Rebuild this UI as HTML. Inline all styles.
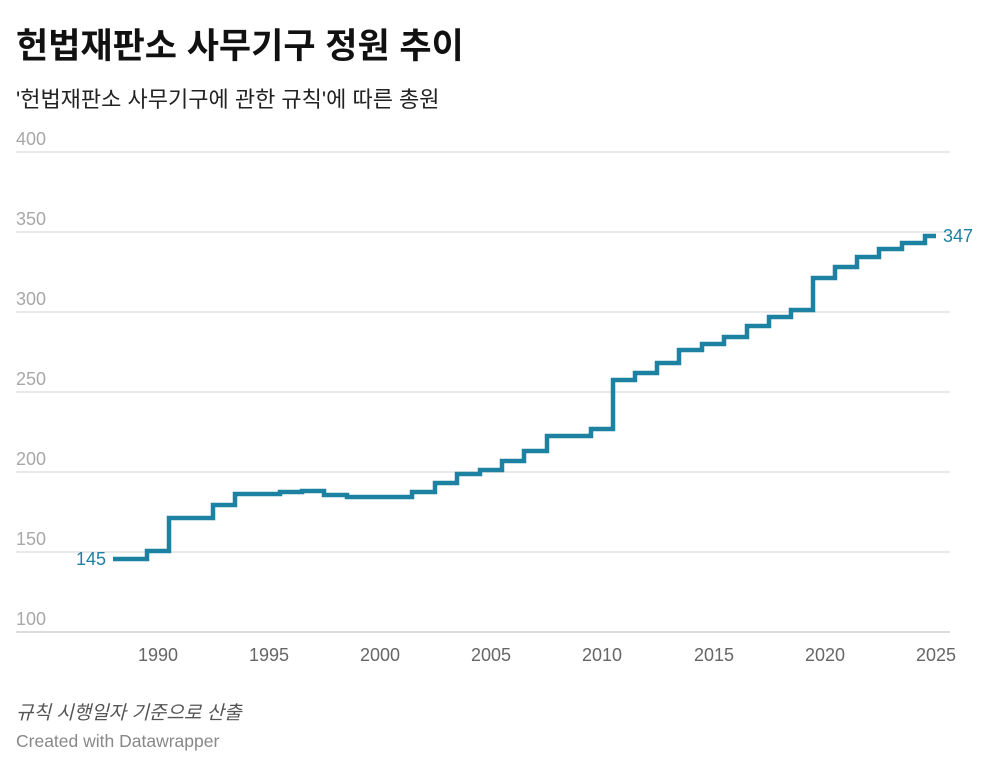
<!DOCTYPE html>
<html><head><meta charset="utf-8"><style>
body{margin:0;background:#fff;width:992px;height:768px;overflow:hidden;font-family:"Liberation Sans","Noto Sans CJK KR",sans-serif;}
</style></head><body>
<svg width="992" height="768" xmlns="http://www.w3.org/2000/svg" style="position:absolute;left:0;top:0">
<text x="16" y="58" font-size="35" font-weight="bold" fill="#111" font-family="Liberation Sans, Noto Sans CJK KR, sans-serif">헌법재판소 사무기구 정원 추이</text>
<text x="16" y="107" font-size="22" fill="#222" font-family="Liberation Sans, Noto Sans CJK KR, sans-serif">'헌법재판소 사무기구에 관한 규칙'에 따른 총원</text>
<g stroke="#e2e2e2" stroke-width="1.5">
<line x1="16" x2="950" y1="152" y2="152"/><line x1="16" x2="950" y1="232" y2="232"/><line x1="16" x2="950" y1="312" y2="312"/><line x1="16" x2="950" y1="392" y2="392"/><line x1="16" x2="950" y1="472" y2="472"/><line x1="16" x2="950" y1="552" y2="552"/><line x1="16" x2="950" y1="632" y2="632" stroke="#d0d0d0"/>
</g>
<g font-size="18" fill="#a8a8a8" font-family="Liberation Sans, sans-serif">
<text x="16" y="145">400</text><text x="16" y="225">350</text><text x="16" y="305">300</text><text x="16" y="385">250</text><text x="16" y="465">200</text><text x="16" y="545">150</text><text x="16" y="625">100</text>
</g>
<g font-size="18" fill="#666" text-anchor="middle" font-family="Liberation Sans, sans-serif">
<text x="158" y="661">1990</text><text x="269" y="661">1995</text><text x="380" y="661">2000</text><text x="491" y="661">2005</text><text x="602" y="661">2010</text><text x="714" y="661">2015</text><text x="825" y="661">2020</text><text x="936" y="661">2025</text>
</g>
<path fill="none" stroke="#1d81a2" stroke-width="4.5" stroke-linejoin="miter" d="M113 559H147V551H169V518H213V505H235V494H280V492H302V491H324V495H347V497H412V492H435V483H457V474H480V470H502V461H524V451H547V436H591V429H613V380H635V373H657V363H679V350H702V344H724V337H747V326H769V317H791V310H813V278H835V267H857V257H879V249H902V243H925V236H936"/>
<text x="106" y="565" font-size="18" fill="#1d81a2" text-anchor="end" font-family="Liberation Sans, sans-serif">145</text>
<text x="943" y="242" font-size="18" fill="#1d81a2" font-family="Liberation Sans, sans-serif">347</text>
<text x="16" y="719" font-size="19" font-style="italic" fill="#555" font-family="Liberation Sans, Noto Sans CJK KR, sans-serif">규칙 시행일자 기준으로 산출</text>
<text x="16" y="747" font-size="17.5" fill="#888" font-family="Liberation Sans, sans-serif">Created with Datawrapper</text>
</svg>
</body></html>
